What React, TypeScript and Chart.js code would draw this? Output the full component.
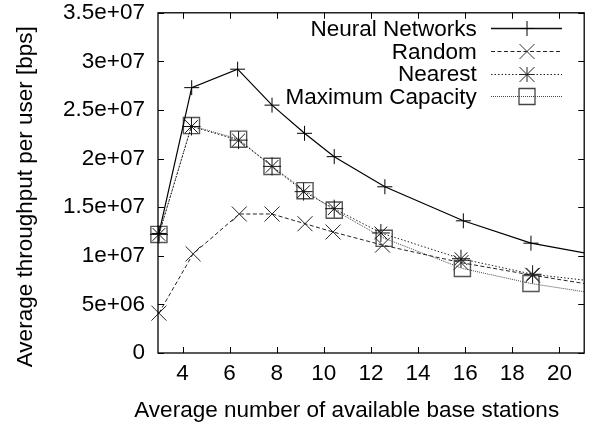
import React, { useEffect, useRef } from 'react';
import { Chart, registerables } from 'chart.js';

Chart.register(...registerables);

// ---- data ----
const seriesNames = ['Neural Networks', 'Random', 'Nearest', 'Maximum Capacity'];

const nnX = [3, 4.39, 6.34, 7.8, 9.18, 10.44, 12.59, 15.92, 18.79, 21.05];
const nnY = [12.3e6, 27.3e6, 29.2e6, 25.5e6, 22.6e6, 20.2e6, 17.1e6, 13.6e6, 11.3e6, 10.3e6];

const randX = [3, 4.45, 6.41, 7.8, 9.2, 10.39, 12.49, 15.82, 18.86, 21.05];
const randY = [4.1e6, 10.2e6, 14.3e6, 14.3e6, 13.3e6, 12.45e6, 11.1e6, 9.3e6, 8.0e6, 7.15e6];

const nearX = [3, 4.38, 6.38, 7.8, 9.14, 10.44, 12.42, 15.82, 18.86, 21.05];
const nearY = [12.2e6, 23.3e6, 21.9e6, 19.2e6, 16.6e6, 14.85e6, 12.35e6, 9.7e6, 8.1e6, 7.5e6];

const maxX = [3, 4.38, 6.38, 7.8, 9.2, 10.44, 12.56, 15.88, 18.79, 21.05];
const maxY = [12.2e6, 23.4e6, 22.0e6, 19.2e6, 16.7e6, 14.7e6, 11.8e6, 8.7e6, 7.15e6, 6.3e6];

const xTicks = [4, 6, 8, 10, 12, 14, 16, 18, 20];
const yTicks = [0, 5e6, 10e6, 15e6, 20e6, 25e6, 30e6, 35e6];
const yTickLabels = ['0', '5e+06', '1e+07', '1.5e+07', '2e+07', '2.5e+07', '3e+07', '3.5e+07'];

const xTitle = 'Average number of available base stations';
const yTitle = 'Average throughput per user [bps]';

const FONT = "'Liberation Sans', Arial, Helvetica, sans-serif";
const FS = 22.5;

function pts(xs: number[], ys: number[]) {
  return xs.map((x, i) => ({ x, y: ys[i] }));
}
function radii(n: number, r: number) {
  // the last point lies on the plot edge: the line continues past the frame, no marker there
  return Array.from({ length: n }, (_, i) => (i === n - 1 ? 0 : r));
}

type Marker = 'cross' | 'crossRot' | 'star' | 'rect';

function drawMarker(ctx: CanvasRenderingContext2D, m: Marker, x: number, y: number, color: string) {
  ctx.save();
  ctx.setLineDash([]);
  ctx.strokeStyle = color;
  ctx.lineWidth = 1;
  ctx.beginPath();
  const r = 7.5;
  if (m === 'cross' || m === 'star') {
    ctx.moveTo(x - r, y); ctx.lineTo(x + r, y);
    ctx.moveTo(x, y - r); ctx.lineTo(x, y + r);
  }
  if (m === 'crossRot' || m === 'star') {
    ctx.moveTo(x - r, y - r); ctx.lineTo(x + r, y + r);
    ctx.moveTo(x - r, y + r); ctx.lineTo(x + r, y - r);
  }
  if (m === 'rect') {
    ctx.lineWidth = 1.3;
    ctx.rect(x - 8, y - 8, 16, 16);
  }
  ctx.stroke();
  ctx.restore();
}

const legendStyles = [
  { dash: [] as number[], width: 1.6, color: '#111', marker: 'cross' as Marker, mColor: '#000' },
  { dash: [4, 2.5], width: 1, color: '#222', marker: 'crossRot' as Marker, mColor: '#333' },
  { dash: [1.5, 2], width: 1, color: '#222', marker: 'star' as Marker, mColor: '#222' },
  { dash: [1, 1], width: 1, color: '#444', marker: 'rect' as Marker, mColor: '#444' },
];

const framePlugin = {
  id: 'gnuFrame',
  afterDraw(chart: any) {
    const { ctx, chartArea: a, scales } = chart;
    const xs = scales.x;
    const ys = scales.y;
    ctx.save();
    ctx.strokeStyle = '#000';
    ctx.lineWidth = 1.3;
    ctx.setLineDash([]);
    ctx.strokeRect(a.left, a.top, a.right - a.left, a.bottom - a.top);
    const tl = 6;
    ctx.lineWidth = 1;
    ctx.beginPath();
    xTicks.forEach((v) => {
      const px = Math.round(xs.getPixelForValue(v)) + 0.5;
      ctx.moveTo(px, a.bottom); ctx.lineTo(px, a.bottom - tl);
      ctx.moveTo(px, a.top); ctx.lineTo(px, a.top + tl);
    });
    yTicks.forEach((v) => {
      const py = Math.round(ys.getPixelForValue(v)) + 0.5;
      ctx.moveTo(a.left, py); ctx.lineTo(a.left + tl, py);
      ctx.moveTo(a.right, py); ctx.lineTo(a.right - tl, py);
    });
    ctx.stroke();

    // axis titles
    ctx.font = `${FS}px ${FONT}`;
    ctx.fillStyle = '#000';
    ctx.textAlign = 'center';
    ctx.textBaseline = 'alphabetic';
    ctx.fillText(xTitle, 346.7, 416.7);
    ctx.save();
    ctx.translate(32, 196.7);
    ctx.rotate(-Math.PI / 2);
    ctx.fillText(yTitle, 0, 0);
    ctx.restore();

    // legend (top right, inside the plot)
    const textRight = 476.7;
    const lineL = 491;
    const lineR = 562;
    const mx = 527;
    ctx.textAlign = 'right';
    ctx.textBaseline = 'alphabetic';
    seriesNames.forEach((name, i) => {
      const base = 36 + i * 22.6;
      ctx.fillText(name, textRight, base);
      const ly = Math.round(base - 7.6) + 0.5;
      const s = legendStyles[i];
      ctx.save();
      ctx.strokeStyle = s.color;
      ctx.lineWidth = s.width;
      ctx.setLineDash(s.dash);
      ctx.beginPath();
      ctx.moveTo(lineL, ly);
      ctx.lineTo(lineR, ly);
      ctx.stroke();
      ctx.restore();
      drawMarker(ctx, s.marker, mx, ly, s.mColor);
    });
    ctx.restore();
  },
};

export default function App() {
  const ref = useRef<HTMLCanvasElement | null>(null);

  useEffect(() => {
    document.body.style.margin = '0';
    const canvas = ref.current;
    if (!canvas) return;
    const n = nnX.length;
    const chart = new Chart(canvas, {
      type: 'line',
      data: {
        datasets: [
          {
            label: seriesNames[0],
            data: pts(nnX, nnY),
            borderColor: '#000',
            borderWidth: 1.2,
            pointStyle: 'cross',
            pointRadius: radii(n, 7.5),
            pointBorderColor: '#000',
            pointBorderWidth: 1,
            backgroundColor: 'transparent',
            clip: false,
            tension: 0,
          },
          {
            label: seriesNames[1],
            data: pts(randX, randY),
            borderColor: '#222',
            borderWidth: 1,
            borderDash: [4, 2.5],
            pointStyle: 'crossRot',
            pointRadius: radii(n, 10.6),
            pointBorderColor: '#222',
            pointBorderWidth: 1,
            backgroundColor: 'transparent',
            clip: false,
            tension: 0,
          },
          {
            label: seriesNames[2],
            data: pts(nearX, nearY),
            borderColor: '#222',
            borderWidth: 1,
            borderDash: [1.5, 2],
            pointStyle: 'star',
            pointRadius: radii(n, 9),
            pointBorderColor: '#111',
            pointBorderWidth: 1,
            backgroundColor: 'transparent',
            clip: false,
            tension: 0,
          },
          {
            label: seriesNames[3],
            data: pts(maxX, maxY),
            borderColor: '#444',
            borderWidth: 1,
            borderDash: [1, 1],
            pointStyle: 'rect',
            pointRadius: radii(n, 11.4),
            pointBorderColor: '#555',
            pointBorderWidth: 1.4,
            pointBackgroundColor: 'transparent',
            backgroundColor: 'transparent',
            clip: false,
            tension: 0,
          },
        ],
      },
      options: {
        responsive: false,
        animation: false,
        devicePixelRatio: 1,
        layout: { padding: { left: 0, right: 8, top: 11, bottom: 0 } },
        plugins: {
          legend: { display: false },
          tooltip: { enabled: false },
        },
        events: [],
        scales: {
          x: {
            type: 'linear',
            min: 2.96,
            max: 21.05,
            grid: { display: false, drawTicks: false },
            border: { display: false },
            afterBuildTicks: (s: any) => {
              s.ticks = xTicks.map((v) => ({ value: v }));
            },
            afterFit: (s: any) => {
              s.height = 78;
              s.paddingLeft = 0;
              s.paddingRight = 0;
            },
            ticks: {
              color: '#000',
              font: { family: FONT, size: FS, lineHeight: 1 },
              padding: 10,
              maxRotation: 0,
              autoSkip: false,
              callback: (v: any) => String(v),
            },
            title: { display: false },
          },
          y: {
            type: 'linear',
            min: 0,
            max: 35e6,
            grid: { display: false, drawTicks: false },
            border: { display: false },
            afterBuildTicks: (s: any) => {
              s.ticks = yTicks.map((v) => ({ value: v }));
            },
            afterFit: (s: any) => {
              s.width = 158;
              s.paddingTop = 0;
              s.paddingBottom = 0;
            },
            ticks: {
              color: '#000',
              font: { family: FONT, size: FS, lineHeight: 1 },
              padding: 13,
              autoSkip: false,
              callback: (v: any) => {
                const i = yTicks.indexOf(Number(v));
                return i >= 0 ? yTickLabels[i] : '';
              },
            },
            title: { display: false },
          },
        },
      },
      plugins: [framePlugin],
    } as any);
    return () => chart.destroy();
  }, []);

  return (
    <div style={{ width: 597, height: 431, background: '#fff' }}>
      <canvas ref={ref} width={597} height={431} style={{ display: 'block' }} />
    </div>
  );
}
